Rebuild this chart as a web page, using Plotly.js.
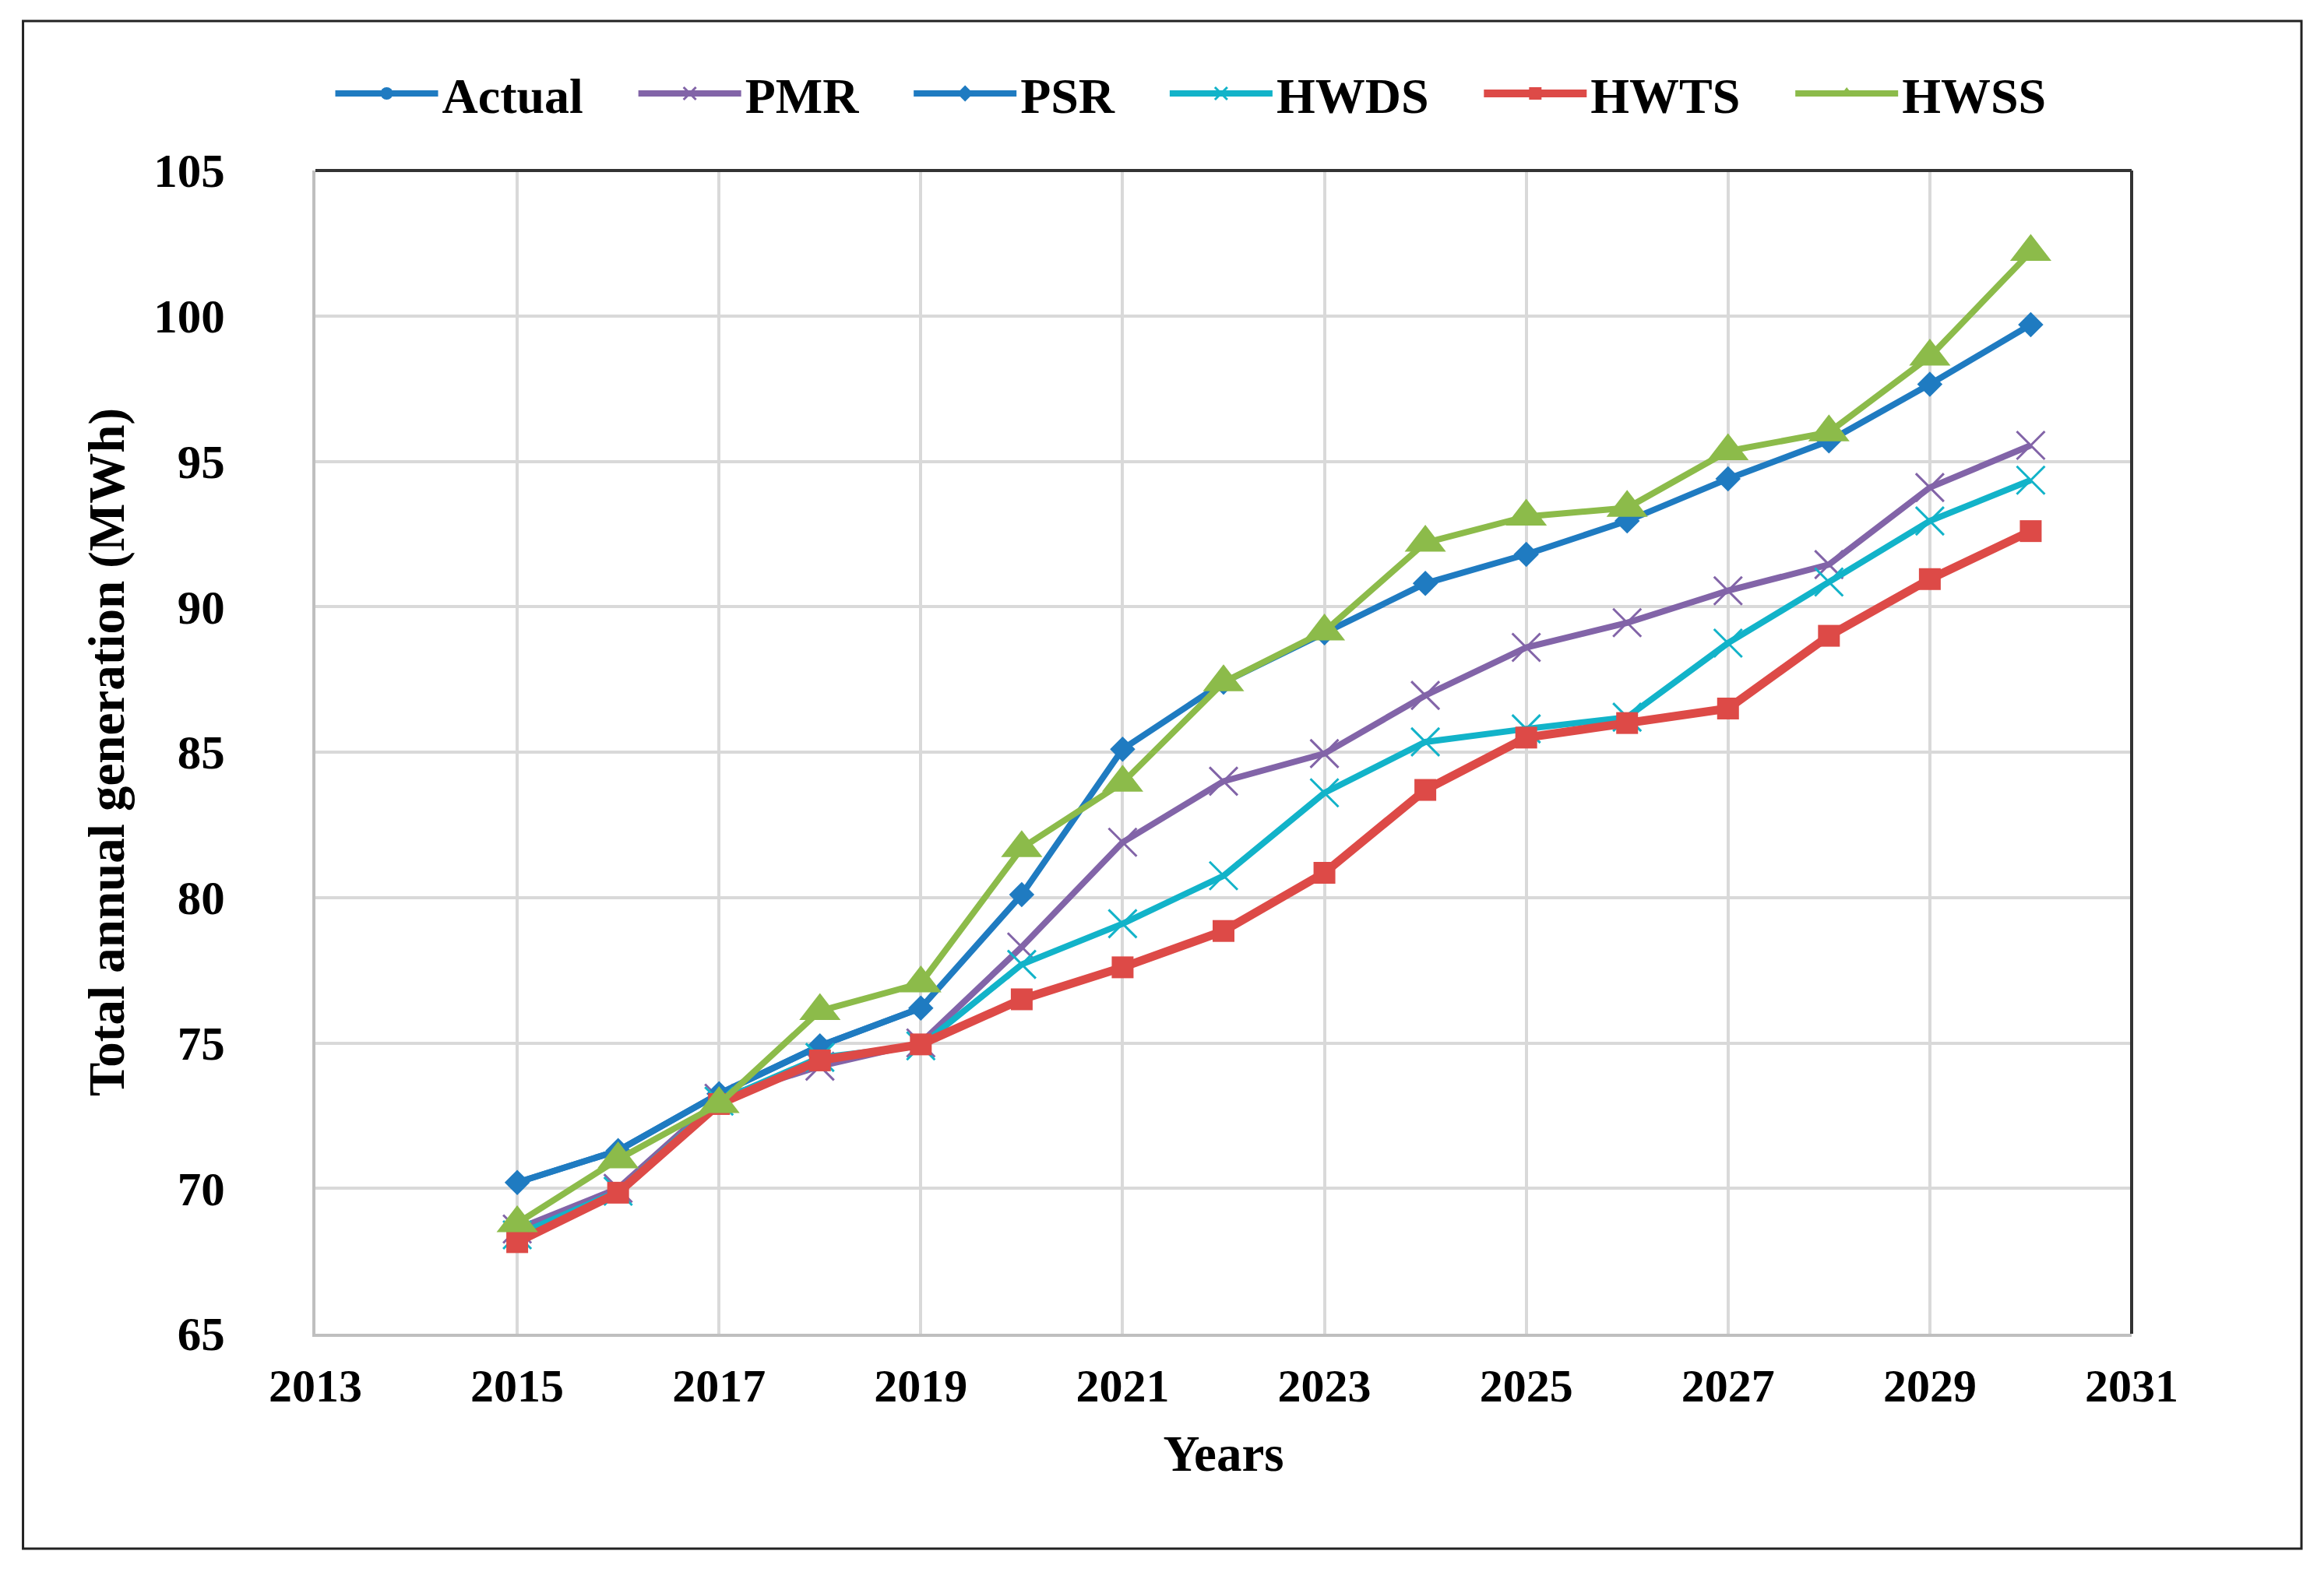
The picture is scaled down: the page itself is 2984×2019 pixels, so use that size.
<!DOCTYPE html>
<html>
<head>
<meta charset="utf-8">
<script src="https://cdn.plot.ly/plotly-3.0.1.min.js"></script>
<style>
html,body{margin:0;padding:0;background:#fff;}
#chart{width:2984px;height:2019px;}
</style>
</head>
<body>
<div id="chart"></div>
<script>
const years = [2015,2016,2017,2018,2019,2020,2021,2022,2023,2024,2025,2026,2027,2028,2029,2030];
const actualYears = [2015,2016,2017,2018,2019];
const actual = [70.2,71.3,73.25,74.9,76.2];
const pmr  = [68.6,70.0,73.1,74.2,75.0,78.3,81.9,84.0,84.95,86.95,88.6,89.45,90.55,91.45,94.1,95.55];
const psr  = [70.2,71.3,73.25,74.9,76.2,80.1,85.1,87.4,89.1,90.8,91.8,92.95,94.4,95.7,97.65,99.7];
const hwds = [68.4,69.9,73.0,74.5,74.9,77.7,79.1,80.75,83.6,85.35,85.8,86.2,88.75,90.85,92.95,94.35];
const hwts = [68.15,69.85,72.9,74.4,74.95,76.5,77.6,78.85,80.85,83.7,85.5,86.0,86.5,89.0,90.95,92.6];
const hwss = [68.8,71.0,72.9,76.1,77.05,81.7,83.95,87.4,89.15,92.2,93.1,93.4,95.35,96.0,98.6,102.2];
const seriesNames = ['Actual','PMR','PSR','HWDS','HWTS','HWSS'];
const xTicks = [2013,2015,2017,2019,2021,2023,2025,2027,2029,2031];
const yTicks = [65,70,75,80,85,90,95,100,105];

const FONT = "Liberation Serif, Times New Roman, serif";
const C = {blue:'#1F7BC1', purple:'#8264A8', cyan:'#12B3C9', red:'#DD4A47', green:'#8CBB4A'};
const PAD = '\u00a0\u00a0\u00a0\u2009';
const legName = (n, i) => i < seriesNames.length - 1 ? n + PAD : n;

const traces = [
  {name:legName(seriesNames[0],0), x:actualYears, y:actual, mode:'lines+markers',
   line:{color:C.blue, width:8}, marker:{symbol:'circle', size:22, color:C.blue}},
  {name:legName(seriesNames[1],1), x:years, y:pmr, mode:'lines+markers',
   line:{color:C.purple, width:8}, marker:{symbol:'x-thin-open', size:36, color:C.purple, line:{color:C.purple, width:3}}},
  {name:legName(seriesNames[2],2), x:years, y:psr, mode:'lines+markers',
   line:{color:C.blue, width:8}, marker:{symbol:'diamond', size:25, color:C.blue}},
  {name:legName(seriesNames[3],3), x:years, y:hwds, mode:'lines+markers',
   line:{color:C.cyan, width:8}, marker:{symbol:'x-thin-open', size:36, color:C.cyan, line:{color:C.cyan, width:3}}},
  {name:legName(seriesNames[4],4), x:years, y:hwts, mode:'lines+markers',
   line:{color:C.red, width:11}, marker:{symbol:'square', size:28, color:C.red}},
  {name:legName(seriesNames[5],5), x:years, y:hwss, mode:'lines+markers',
   line:{color:C.green, width:8}, marker:{symbol:'triangle-up', size:46, color:C.green}}
];

const layout = {
  width:2984, height:2019,
  paper_bgcolor:'#fff', plot_bgcolor:'#fff',
  margin:{l:405, r:247, t:219, b:306},
  font:{family:FONT, size:60, color:'#000', weight:'bold'},
  showlegend:true,
  legend:{orientation:'h', x:0.482, xanchor:'center', y:1.066, yanchor:'middle',
          font:{family:FONT, size:64, color:'#000', weight:'bold'}, itemwidth:132,
          traceorder:'normal', bgcolor:'rgba(0,0,0,0)'},
  xaxis:{range:[2013,2031], tickvals:xTicks, ticktext:xTicks.map(String),
         showgrid:true, gridcolor:'#d9d9d9', gridwidth:4, zeroline:false,
         showline:true, linecolor:'#bfbfbf', linewidth:4, ticks:'', ticklabelstandoff:11,
         tickfont:{family:FONT, size:60, color:'#000', weight:'bold'},
         title:{text:'Years', standoff:32, font:{family:FONT, size:65, color:'#000', weight:'bold'}}},
  yaxis:{range:[65,105], tickvals:yTicks, ticktext:yTicks.map(String),
         showgrid:true, gridcolor:'#d9d9d9', gridwidth:4, zeroline:false,
         showline:true, linecolor:'#bfbfbf', linewidth:4, ticks:'', ticklabelstandoff:100,
         tickfont:{family:FONT, size:61, color:'#000', weight:'bold'},
         title:{text:'Total annual generation (MWh)', standoff:18, font:{family:FONT, size:65, color:'#000', weight:'bold'}}},
  shapes:[
    {type:'line', xref:'paper', yref:'paper', x0:0, x1:1, y0:1, y1:1, line:{color:'#333', width:4}},
    {type:'line', xref:'paper', yref:'paper', x0:1, x1:1, y0:0, y1:1, line:{color:'#333', width:4}},
    {type:'rect', xref:'paper', yref:'paper', x0:-0.161, x1:1.0935, y0:-0.1847, y1:1.1285,
     line:{color:'#222', width:3}, fillcolor:'rgba(0,0,0,0)'}
  ]
};

Plotly.newPlot('chart', traces, layout, {displayModeBar:false, staticPlot:true});
</script>
</body>
</html>
